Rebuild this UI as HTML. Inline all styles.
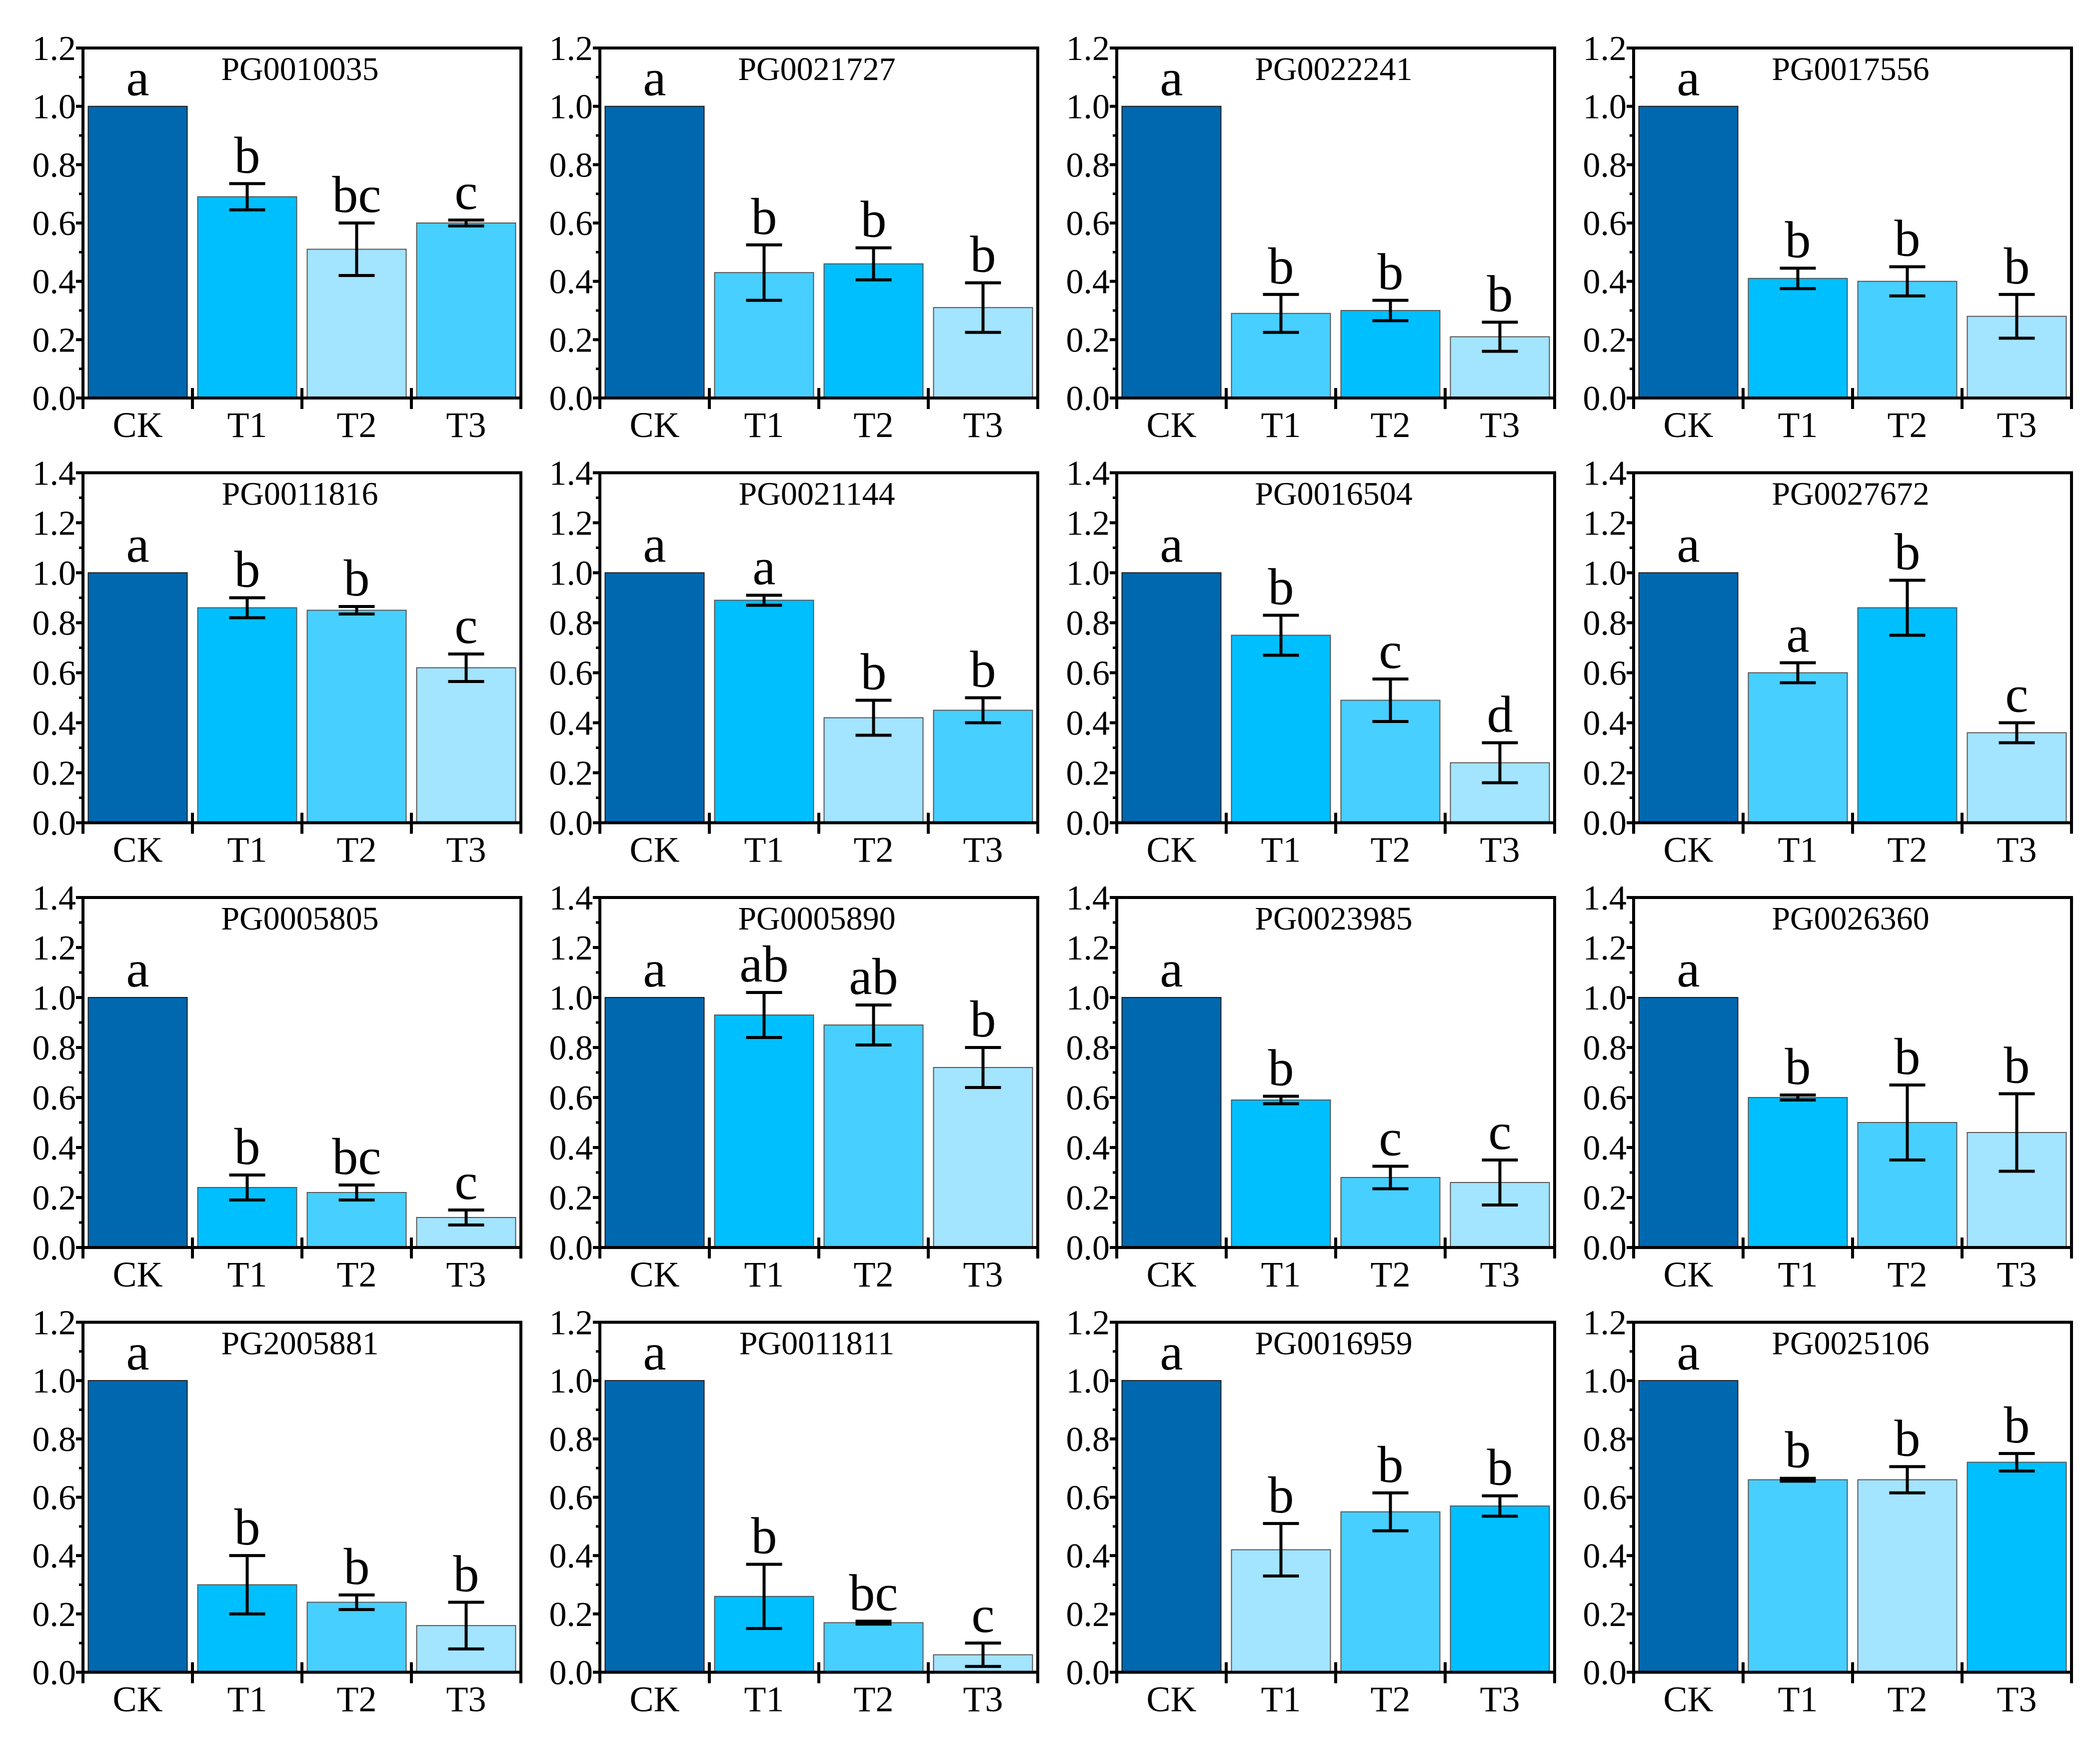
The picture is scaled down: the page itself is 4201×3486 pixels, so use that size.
<!DOCTYPE html>
<html><head><meta charset="utf-8"><style>
html,body{margin:0;padding:0;background:#fff;}
svg{display:block;}
text{font-family:"Liberation Serif","Times New Roman",serif;fill:#000;}
</style></head><body>
<svg id="fig" width="4201" height="3486" viewBox="0 0 4201 3486" xmlns="http://www.w3.org/2000/svg" font-family="Liberation Serif, serif"></svg>
<script>
const categories = ["CK","T1","T2","T3"];
const titles = ["PG0010035","PG0021727","PG0022241","PG0017556",
 "PG0011816","PG0021144","PG0016504","PG0027672",
 "PG0005805","PG0005890","PG0023985","PG0026360",
 "PG2005881","PG0011811","PG0016959","PG0025106"];
const values = [
 [1,0.69,0.51,0.60],[1,0.43,0.46,0.31],[1,0.29,0.30,0.21],[1,0.41,0.40,0.28],
 [1,0.86,0.85,0.62],[1,0.89,0.42,0.45],[1,0.75,0.49,0.24],[1,0.60,0.86,0.36],
 [1,0.24,0.22,0.12],[1,0.93,0.89,0.72],[1,0.59,0.28,0.26],[1,0.60,0.50,0.46],
 [1,0.30,0.24,0.16],[1,0.26,0.17,0.06],[1,0.42,0.55,0.57],[1,0.66,0.66,0.72]];
const errors = [
 [0,0.045,0.09,0.01],[0,0.095,0.055,0.085],[0,0.065,0.035,0.05],[0,0.035,0.05,0.075],
 [0,0.04,0.015,0.055],[0,0.02,0.07,0.05],[0,0.08,0.085,0.08],[0,0.04,0.11,0.04],
 [0,0.05,0.03,0.03],[0,0.09,0.08,0.08],[0,0.015,0.045,0.09],[0,0.01,0.15,0.155],
 [0,0.10,0.025,0.08],[0,0.11,0.005,0.04],[0,0.09,0.065,0.035],[0,0.005,0.045,0.03]];
const letters = [
 ["a","b","bc","c"],["a","b","b","b"],["a","b","b","b"],["a","b","b","b"],
 ["a","b","b","c"],["a","a","b","b"],["a","b","c","d"],["a","a","b","c"],
 ["a","b","bc","c"],["a","ab","ab","b"],["a","b","c","c"],["a","b","b","b"],
 ["a","b","b","b"],["a","b","bc","c"],["a","b","b","b"],["a","b","b","b"]];
const colorIdx = [
 [0,1,3,2],[0,2,1,3],[0,2,1,3],[0,1,2,3],
 [0,1,2,3],[0,1,3,2],[0,1,2,3],[0,2,1,3],
 [0,1,2,3],[0,1,2,3],[0,1,2,3],[0,1,2,3],
 [0,1,2,3],[0,1,2,3],[0,3,2,1],[0,2,3,1]];
const yMaxByRow = [1.2,1.4,1.4,1.2];

const palette = ["#0068AF","#00BFFF","#47CFFF","#A3E4FF"];
const svg = document.getElementById('fig');
const NS = "http://www.w3.org/2000/svg";
function mk(tag, attrs, parent){
  const e = document.createElementNS(NS, tag);
  for (const k in attrs) e.setAttribute(k, attrs[k]);
  (parent||svg).appendChild(e);
  return e;
}
const FF = "Liberation Serif, serif";
const FW = 876, FH = 700;
for (let p = 0; p < 16; p++) {
  const row = Math.floor(p/4), col = p % 4;
  const x0 = 166 + col*1034, y0 = 96 + row*849.5;
  const ymax = yMaxByRow[row];
  const ys = v => y0 + FH - v/ymax*FH;
  const slot = FW/4;
  const xs = i => x0 + slot*i + slot/2;
  const g = mk('g', {});
  
  
  for (let i = 0; i < 4; i++) {
    const v = values[p][i], e = errors[p][i];
    const bw = 198;
    const r = mk('rect', {x: xs(i)-bw/2, y: ys(v), width: bw, height: ys(0)-ys(v),
      fill: palette[colorIdx[p][i]], stroke: i===0?'#1a1a1a':'#555', 'stroke-width': 2}, g);
    
    
    let top = ys(v);
    if (e > 0) {
      const eb = mk('g', {stroke:'#000','stroke-width':6}, g);
      
      
      mk('line', {x1: xs(i), x2: xs(i), y1: ys(v+e), y2: ys(v-e)}, eb);
      mk('line', {x1: xs(i)-36, x2: xs(i)+36, y1: ys(v+e), y2: ys(v+e)}, eb);
      mk('line', {x1: xs(i)-36, x2: xs(i)+36, y1: ys(v-e), y2: ys(v-e)}, eb);
      top = ys(v+e);
    }
    const t = mk('text', {x: xs(i), y: top-22, 'font-size': 104, 'text-anchor':'middle', 'font-family': FF}, g);
    t.textContent = letters[p][i];
    
    
    const xl = mk('text', {x: xs(i), y: y0+FH+78, 'font-size': 72, 'text-anchor':'middle', 'font-family': FF}, g);
    xl.textContent = categories[i];
    
    
  }
  const fr = mk('rect', {x: x0, y: y0, width: FW, height: FH, fill:'none', stroke:'#000','stroke-width':6}, g);
  
  
  for (let i = 0; i <= 4; i++) {
    mk('line', {x1: x0+slot*i, x2: x0+slot*i, y1: y0+FH-20, y2: y0+FH+22, stroke:'#000','stroke-width':6}, g);
  }
  const nMaj = Math.round(ymax/0.2);
  for (let k = 0; k <= nMaj; k++) {
    const v = k*0.2, y = ys(v);
    mk('line', {x1: x0-14, x2: x0, y1: y, y2: y, stroke:'#000','stroke-width':6}, g);
    if (k < nMaj) mk('line', {x1: x0-8, x2: x0, y1: ys(v+0.1), y2: ys(v+0.1), stroke:'#000','stroke-width':5}, g);
    const tl = mk('text', {x: x0-14, y: y+24, 'font-size': 70, 'text-anchor':'end', 'font-family': FF}, g);
    tl.textContent = v.toFixed(1);
    
    
  }
  const tt = mk('text', {x: x0+FW/2 - 4, y: y0+64, 'font-size': 66, 'text-anchor':'middle', 'font-family': FF}, g);
  tt.textContent = titles[p];
  
  
}
</script>
</body></html>
